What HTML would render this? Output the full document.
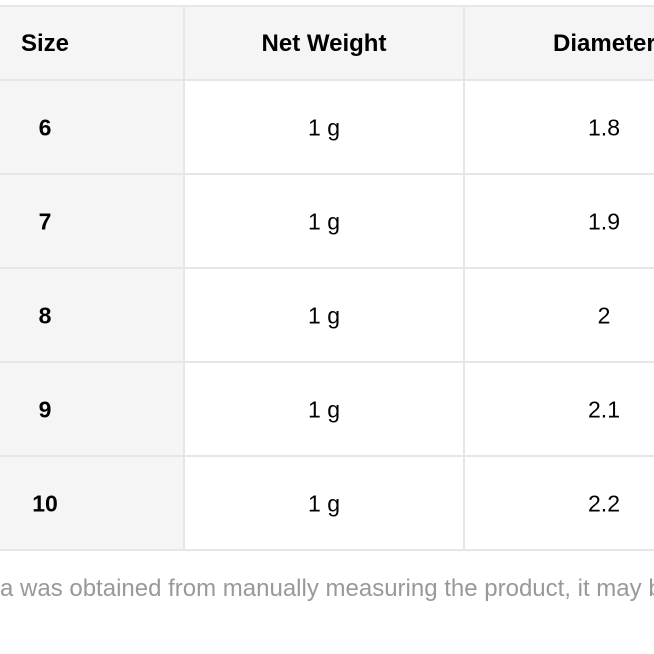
<!DOCTYPE html>
<html><head><style>
body{margin:0;width:654px;height:654px;overflow:hidden;background:#fff;font-family:"Liberation Sans",Arial,sans-serif;position:relative}
.h{position:absolute;left:0;width:654px;height:2px;background:#e6e6e6}
.v{position:absolute;width:2px;background:#e6e6e6;top:5px;height:545px}
.t{position:absolute;font-size:23px;color:#000;transform:translate(-50%,-50%);white-space:nowrap}
.b{font-weight:bold}
.hd{font-size:24px}
</style></head><body>
<div style="position:absolute;left:0;top:5px;width:654px;height:75px;background:#f5f5f5"></div>
<div style="position:absolute;left:0;top:5px;width:184px;height:545px;background:#f5f5f5"></div>
<div class="h" style="top:5px"></div>
<div class="h" style="top:79px"></div>
<div class="h" style="top:173px"></div>
<div class="h" style="top:267px"></div>
<div class="h" style="top:361px"></div>
<div class="h" style="top:455px"></div>
<div class="h" style="top:549px"></div>
<div class="v" style="left:183px"></div>
<div class="v" style="left:463px"></div>
<div class="t b hd" style="left:45px;top:44px">Size</div>
<div class="t b hd" style="left:324px;top:44px">Net Weight</div>
<div class="t b hd" style="left:553px;top:44px;transform:translate(0,-50%)">Diameter</div>
<div class="t b" style="left:45px;top:128px">6</div>
<div class="t b" style="left:45px;top:222px">7</div>
<div class="t b" style="left:45px;top:316px">8</div>
<div class="t b" style="left:45px;top:410px">9</div>
<div class="t b" style="left:45px;top:504px">10</div>
<div class="t" style="left:324px;top:128px">1 g</div>
<div class="t" style="left:324px;top:222px">1 g</div>
<div class="t" style="left:324px;top:316px">1 g</div>
<div class="t" style="left:324px;top:410px">1 g</div>
<div class="t" style="left:324px;top:504px">1 g</div>
<div class="t" style="left:604px;top:128px">1.8</div>
<div class="t" style="left:604px;top:222px">1.9</div>
<div class="t" style="left:604px;top:316px">2</div>
<div class="t" style="left:604px;top:410px">2.1</div>
<div class="t" style="left:604px;top:504px">2.2</div>
<div style="position:absolute;left:0;top:575px;font-size:24px;color:#999;white-space:nowrap">a was obtained from manually measuring the product, it may b</div>
</body></html>
